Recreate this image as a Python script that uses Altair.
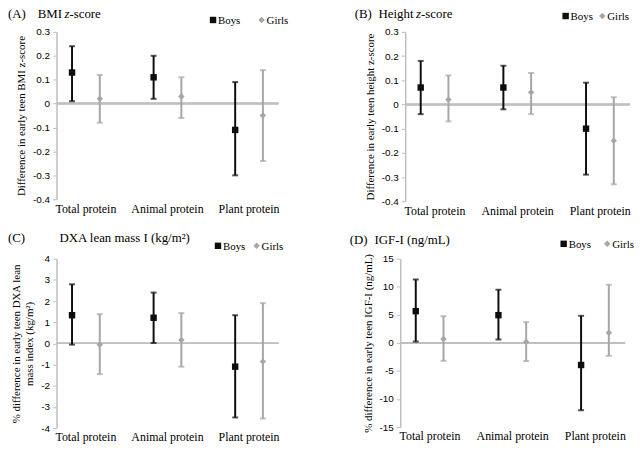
import altair as alt
import pandas as pd

categories = ["Total protein", "Animal protein", "Plant protein"]
sexes = ["Boys", "Girls"]

# Panel A: BMI z-score
a_boys = [0.13, 0.11, -0.11]
a_boys_lo = [0.01, 0.02, -0.30]
a_boys_hi = [0.24, 0.20, 0.09]
a_girls = [0.02, 0.03, -0.05]
a_girls_lo = [-0.08, -0.06, -0.24]
a_girls_hi = [0.12, 0.11, 0.14]

# Panel B: Height z-score
b_boys = [0.07, 0.07, -0.10]
b_boys_lo = [-0.04, -0.02, -0.29]
b_boys_hi = [0.18, 0.16, 0.09]
b_girls = [0.02, 0.05, -0.15]
b_girls_lo = [-0.07, -0.04, -0.33]
b_girls_hi = [0.12, 0.13, 0.03]

# Panel C: DXA lean mass index
c_boys = [1.33, 1.21, -1.10]
c_boys_lo = [-0.06, 0.02, -3.50]
c_boys_hi = [2.79, 2.40, 1.33]
c_girls = [-0.06, 0.16, -0.86]
c_girls_lo = [-1.45, -1.10, -3.55]
c_girls_hi = [1.38, 1.43, 1.90]

# Panel D: IGF-I
d_boys = [5.65, 4.94, -3.94]
d_boys_lo = [0.24, 0.60, -12.0]
d_boys_hi = [11.3, 9.47, 4.82]
d_girls = [0.70, 0.18, 1.82]
d_girls_lo = [-3.20, -3.24, -2.30]
d_girls_hi = [4.76, 3.70, 10.35]

SERIF = "Liberation Serif"
SANS = "Liberation Sans"
BLACK = "#0d0d0d"
GRAY = "#a6a6a6"
LINE = "#bfbfbf"
COLORS = [BLACK, GRAY]
SHAPES = ["square", "diamond"]


def frame(boys, blo, bhi, girls, glo, ghi):
    rows = []
    for i, c in enumerate(categories):
        rows.append({"cat": c, "sex": "Boys", "est": boys[i], "lo": blo[i], "hi": bhi[i]})
        rows.append({"cat": c, "sex": "Girls", "est": girls[i], "lo": glo[i], "hi": ghi[i]})
    return pd.DataFrame(rows)


ONE = pd.DataFrame({"k": [0]})


def label_text(t, x, y, size, italic=False):
    return alt.Chart(ONE).mark_text(
        text=t, align="left", baseline="alphabetic", font=SERIF, fontSize=size,
        fontStyle="italic" if italic else "normal", color="#000"
    ).encode(x=alt.value(x), y=alt.value(y))


def legend_layers(lx, ly, gx):
    out = []
    for s, col, shp, px in zip(sexes, COLORS, SHAPES, [lx, gx]):
        out.append(alt.Chart(ONE).mark_point(filled=True, opacity=1, size=42, shape=shp,
                                             color=col).encode(x=alt.value(px), y=alt.value(ly)))
        out.append(label_text(s, px + 5, ly + 4, 11))
    return out


def panel(df, dom, step, decimals, ytitle, title_parts, title_y, leg, width, height):
    if decimals:
        lab = ("datum.value == 0 ? '0' : (datum.value < 0 ? '-' + format(-datum.value, '.1f') "
               ": format(datum.value, '.1f'))")
    else:
        lab = "datum.value < 0 ? '-' + format(-datum.value, 'd') : format(datum.value, 'd')"
    nticks = int(round((dom[1] - dom[0]) / step))
    vals = [round(dom[0] + k * step, 4) for k in range(nticks + 1)]

    x = alt.X("cat:N", sort=categories, title=None,
              scale=alt.Scale(paddingInner=0.32, paddingOuter=0.02),
              axis=alt.Axis(domain=False, ticks=False, labelAngle=0, labelFont=SERIF,
                            labelFontSize=12, labelColor="#000", labelPadding=4))
    xo = alt.XOffset("sex:N", sort=sexes)
    yscale = alt.Scale(domain=dom, nice=False, zero=False)
    yaxis = alt.Axis(values=vals, labelExpr=lab, grid=False, domainColor=LINE,
                     domainWidth=1.5, tickColor=LINE, tickSize=4, labelFont=SANS,
                     labelFontSize=10, labelColor="#000", labelPadding=3,
                     labelOverlap=False, labelBound=False,
                     title=ytitle, titleFont=SERIF, titleFontSize=11,
                     titleFontWeight="normal", titleColor="#000", titlePadding=6)

    def Y(field):
        return alt.Y(field, scale=yscale, axis=yaxis)

    color = alt.Color("sex:N", sort=sexes, scale=alt.Scale(domain=sexes, range=COLORS),
                      legend=None)
    shape = alt.Shape("sex:N", sort=sexes, scale=alt.Scale(domain=sexes, range=SHAPES),
                      legend=None)

    base = alt.Chart(df)
    zero = base.mark_rule(color=LINE, strokeWidth=1.5).encode(
        y=alt.Y(datum=0, scale=yscale, axis=yaxis))
    bars = base.mark_rule(strokeWidth=2).encode(x=x, xOffset=xo, y=Y("lo:Q"), y2="hi:Q",
                                                color=color)
    cap_lo = base.mark_tick(thickness=2, size=6).encode(x=x, xOffset=xo, y=Y("lo:Q"), color=color)
    cap_hi = base.mark_tick(thickness=2, size=6).encode(x=x, xOffset=xo, y=Y("hi:Q"), color=color)
    pts = base.mark_point(filled=True, opacity=1, size=42).encode(
        x=x, xOffset=xo, y=Y("est:Q"), color=color, shape=shape)
    texts = [label_text(t, dx, title_y, 13, it) for (t, dx, it) in title_parts]
    return alt.layer(zero, bars, cap_lo, cap_hi, pts, *texts, *legend_layers(*leg)).properties(
        width=width, height=height)


pA = panel(frame(a_boys, a_boys_lo, a_boys_hi, a_girls, a_girls_lo, a_girls_hi),
           [-0.4, 0.3], 0.1, True, "Difference in early teen BMI z-score",
           [("(A)", -49, False), ("BMI", -19, False), ("z", 8, True), ("-score", 13, False)],
           -14, (158, -12, 207), 224, 169)
pB = panel(frame(b_boys, b_boys_lo, b_boys_hi, b_girls, b_girls_lo, b_girls_hi),
           [-0.4, 0.3], 0.1, True, "Difference in early teen height z-score",
           [("(B)", -51, False), ("Height", -27, False), ("z", 11, True), ("-score", 16, False)],
           -14, (162, -16, 199), 227, 171)
pC = panel(frame(c_boys, c_boys_lo, c_boys_hi, c_girls, c_girls_lo, c_girls_hi),
           [-4, 4], 1, False, ["% difference in early teen DXA lean", "mass index (kg/m²)"],
           [("(C)", -49, False), ("DXA lean mass I (kg/m²)", 3, False)],
           -17, (163, -13, 202), 224, 171)
pD = panel(frame(d_boys, d_boys_lo, d_boys_hi, d_girls, d_girls_lo, d_girls_hi),
           [-15, 15], 5, False, "% difference in early teen IGF-I (ng/mL)",
           [("(D)", -51, False), ("IGF-I (ng/mL)", -26, False)],
           -15, (165, -15, 209), 227, 170)

top = alt.hconcat(pA, pB, spacing=67).resolve_scale(color="independent", shape="independent")
bot = alt.hconcat(pC, pD, spacing=67).resolve_scale(color="independent", shape="independent")
chart = alt.vconcat(top, bot, spacing=16).resolve_scale(
    color="independent", shape="independent"
).properties(
    padding={"left": 0, "top": -2, "right": 0, "bottom": 0}
).configure_view(stroke=None)

chart.save("out.html", embed_options={"renderer": "svg", "actions": False})
